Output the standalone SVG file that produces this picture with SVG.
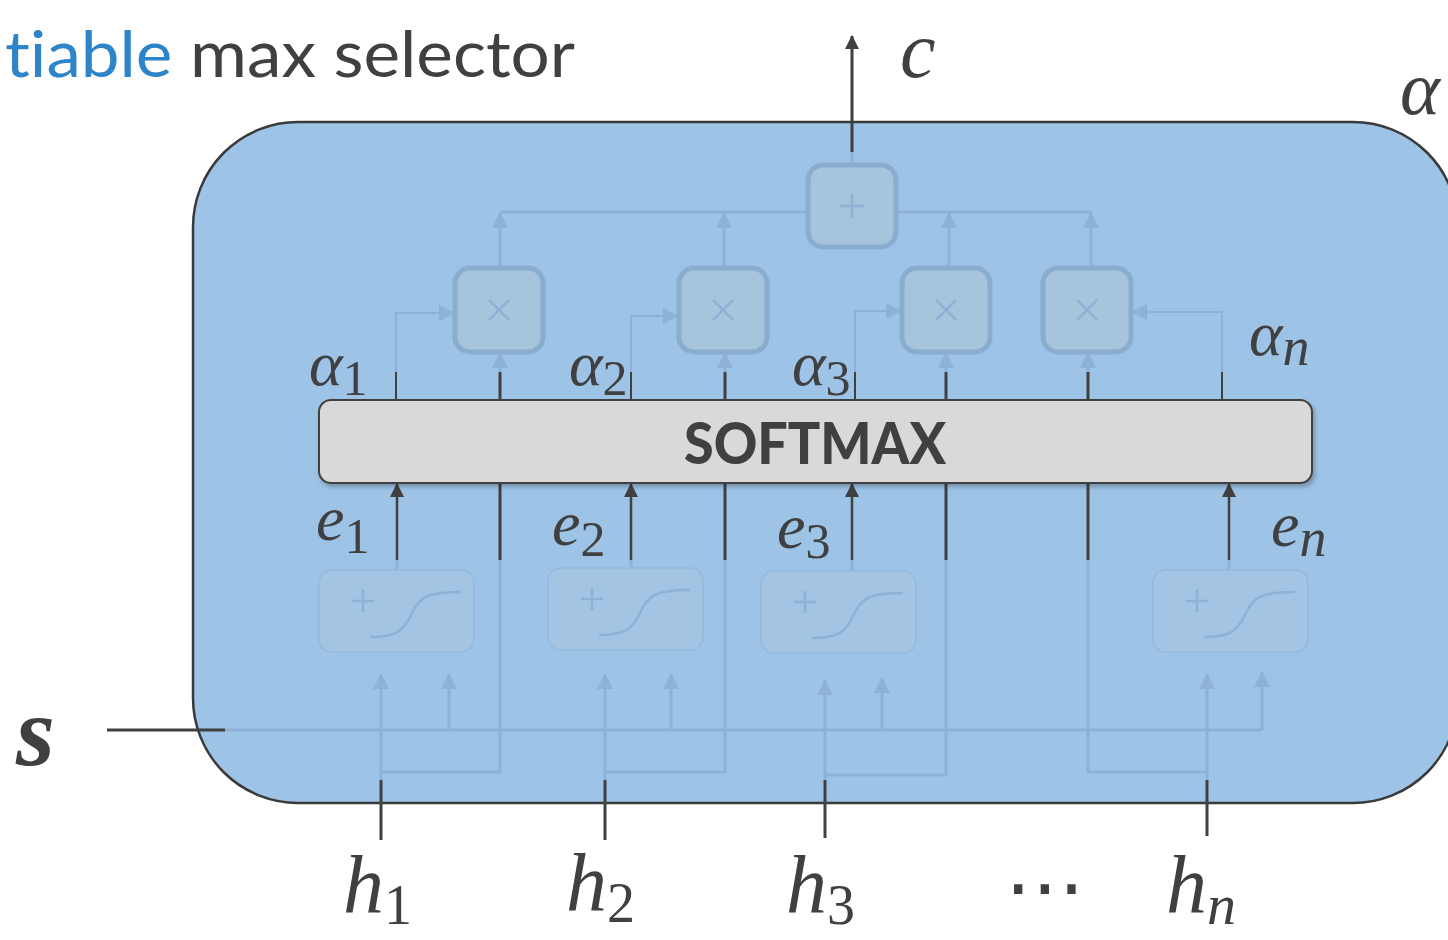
<svg xmlns="http://www.w3.org/2000/svg" width="1448" height="940" viewBox="0 0 1448 940">
  <style>
    .dark { stroke: #404040; fill: none; }
    .fade { stroke: #8db2d6; fill: none; }
    .mul { fill: #a6c4dc; stroke: #8aadcf; stroke-width: 5; }
    .sig { fill: #a3c5e3; stroke: #94b9dc; stroke-width: 1.5; }
    .glyph { stroke: #8db2d6; fill: none; stroke-width: 2.5; }
    .math { font-family: "Liberation Serif", "DejaVu Serif", serif; font-style: italic; fill: #404040; }
    .sub { font-style: normal; }
    .sans { font-family: Lato, "Open Sans", sans-serif; font-variant-ligatures: none; font-feature-settings: "liga" 0, "clig" 0; }
  </style>
  <defs>
    <marker id="arrDark" viewBox="0 0 14 14" markerWidth="14" markerHeight="14" refX="13" refY="7" orient="auto" markerUnits="userSpaceOnUse">
      <path d="M0,0 L14,7 L0,14 z" fill="#404040"/>
    </marker>
    <marker id="arrFade" viewBox="0 0 16 16" markerWidth="16" markerHeight="16" refX="15" refY="8" orient="auto" markerUnits="userSpaceOnUse">
      <path d="M0,0 L16,8 L0,16 z" fill="#8db2d6"/>
    </marker>
    <filter id="shadow" x="-5%" y="-20%" width="110%" height="150%">
      <feDropShadow dx="2" dy="3" stdDeviation="2" flood-color="#000" flood-opacity="0.25"/>
    </filter>
    <g id="sigmoid">
      <rect x="0" y="0" width="155" height="82" rx="13" class="sig"/>
      <path d="M44,20 v22 M33,31 h22" class="glyph" stroke-width="2"/>
      <path d="M51,67 C76,67 84,62 92,45 C100,27 108,22 142,22" class="glyph" stroke-width="3"/>
    </g>
    <g id="times">
      <rect x="0" y="0" width="88" height="84" rx="15" class="mul"/>
      <path d="M34,32 L54,52 M54,32 L34,52" class="glyph" stroke-width="2"/>
    </g>
  </defs>

  <!-- title -->
  <text class="sans" x="5" y="77" font-size="64" fill="#404040" textLength="570" lengthAdjust="spacingAndGlyphs"><tspan fill="#2e84c8">tiable</tspan> max selector</text>

  <!-- attention module container -->
  <g id="module">
    <rect x="193" y="122" width="1265" height="681" rx="105" ry="105" fill="#9dc3e6" stroke="#3a3a3a" stroke-width="2.5"/>
  </g>

  <!-- connectors -->
  <g id="connectors">
    <!-- faded wiring inside the module -->
    <g class="fade" stroke-width="3">
      <!-- s bus -->
      <path d="M225,730 H1262"/>
      <!-- products to the sum -->
      <path d="M500,212 H1092"/>
      <path d="M500,268 V213" marker-end="url(#arrFade)"/>
      <path d="M724,268 V213" marker-end="url(#arrFade)"/>
      <path d="M949,268 V213" marker-end="url(#arrFade)"/>
      <path d="M1091,268 V213" marker-end="url(#arrFade)"/>
      <path d="M852,165 V150"/>
      <!-- h pass-through into multipliers -->
      <path d="M500,372 V353" marker-end="url(#arrFade)"/>
      <path d="M725,372 V353" marker-end="url(#arrFade)"/>
      <path d="M946,372 V353" marker-end="url(#arrFade)"/>
      <path d="M1088,372 V353" marker-end="url(#arrFade)"/>
      <!-- h routing below the scorers -->
      <path d="M381,780 V772 H500 V560"/>
      <path d="M605,780 V772 H725 V560"/>
      <path d="M825,780 V775 H946 V560"/>
      <path d="M1207,780 V772 H1088 V560"/>
      <!-- inputs of the scorers -->
      <path d="M381,772 V674" marker-end="url(#arrFade)"/>
      <path d="M449,730 V674" marker-end="url(#arrFade)"/>
      <path d="M605,772 V674" marker-end="url(#arrFade)"/>
      <path d="M671,730 V674" marker-end="url(#arrFade)"/>
      <path d="M825,775 V680" marker-end="url(#arrFade)"/>
      <path d="M882,730 V678" marker-end="url(#arrFade)"/>
      <path d="M1207,772 V674" marker-end="url(#arrFade)"/>
      <path d="M1262,730 V672" marker-end="url(#arrFade)"/>
      <!-- scorer outputs -->
      <path d="M397,570 V560"/>
      <path d="M631,568 V560"/>
      <path d="M852,571 V560"/>
      <path d="M1229,570 V560"/>
    </g>
    <!-- attention weights into multipliers -->
    <g class="fade" stroke-width="2">
      <path d="M396,372 V313 H454" marker-end="url(#arrFade)"/>
      <path d="M631,372 V316 H678" marker-end="url(#arrFade)"/>
      <path d="M855,372 V311 H901" marker-end="url(#arrFade)"/>
      <path d="M1222,372 V312 H1132" marker-end="url(#arrFade)"/>
    </g>

    <!-- highlighted wiring -->
    <g class="dark" stroke-width="3">
      <path d="M107,730 H225"/>
      <path d="M852,152 V36" marker-end="url(#arrDark)"/>
      <path d="M381,780 V840"/>
      <path d="M605,780 V840"/>
      <path d="M825,780 V838"/>
      <path d="M1207,780 V836"/>
      <path d="M500,483 V560"/>
      <path d="M725,483 V560"/>
      <path d="M946,483 V560"/>
      <path d="M1088,483 V560"/>
      <path d="M500,400 V372"/>
      <path d="M725,400 V372"/>
      <path d="M946,400 V372"/>
      <path d="M1088,400 V372"/>
    </g>
    <g class="dark" stroke-width="2.5">
      <path d="M397,560 V484" marker-end="url(#arrDark)"/>
      <path d="M631,560 V484" marker-end="url(#arrDark)"/>
      <path d="M852,560 V484" marker-end="url(#arrDark)"/>
      <path d="M1229,560 V484" marker-end="url(#arrDark)"/>
    </g>
    <g class="dark" stroke-width="2">
      <path d="M396,400 V372"/>
      <path d="M631,400 V372"/>
      <path d="M855,400 V372"/>
      <path d="M1222,400 V372"/>
    </g>
  </g>

  <!-- sum node -->
  <g id="sum">
    <rect x="808" y="165" width="88" height="82" rx="15" class="mul"/>
    <path d="M852,194 v24 M840,206 h24" class="glyph" stroke-width="2"/>
  </g>

  <!-- multiplier nodes -->
  <g id="mul1"><use href="#times" x="455" y="268"/></g>
  <g id="mul2"><use href="#times" x="679" y="268"/></g>
  <g id="mul3"><use href="#times" x="902" y="268"/></g>
  <g id="mul4"><use href="#times" x="1043" y="268"/></g>

  <!-- scoring nodes -->
  <g id="score1"><use href="#sigmoid" x="319" y="570"/></g>
  <g id="score2"><use href="#sigmoid" x="548" y="568"/></g>
  <g id="score3"><use href="#sigmoid" x="761" y="571"/></g>
  <g id="score4"><use href="#sigmoid" x="1153" y="570"/></g>

  <!-- softmax -->
  <g id="softmax">
    <rect x="319" y="400" width="993" height="83" rx="12" fill="#d9d9d9" stroke="#404040" stroke-width="2" filter="url(#shadow)"/>
    <text class="sans" x="815" y="464" text-anchor="middle" font-weight="900" font-size="58" fill="#404040" textLength="262" lengthAdjust="spacingAndGlyphs">SOFTMAX</text>
  </g>

  <!-- labels -->
  <g id="labels" class="math">
    <text x="900" y="77" font-size="80">c</text>
    <text x="1400" y="114" font-size="76">α</text>
    <text x="16" y="765" font-size="100" font-weight="bold">s</text>

    <text x="309" y="385" font-size="64">α<tspan class="sub" font-size="50" dy="10">1</tspan></text>
    <text x="569" y="385" font-size="64">α<tspan class="sub" font-size="50" dy="10">2</tspan></text>
    <text x="792" y="385" font-size="64">α<tspan class="sub" font-size="50" dy="10">3</tspan></text>
    <text x="1249" y="355" font-size="64">α<tspan font-size="54" dy="10">n</tspan></text>

    <text x="316" y="540" font-size="64">e<tspan class="sub" font-size="50" dy="13">1</tspan></text>
    <text x="552" y="545" font-size="64">e<tspan class="sub" font-size="50" dy="11">2</tspan></text>
    <text x="777" y="548" font-size="64">e<tspan class="sub" font-size="50" dy="10">3</tspan></text>
    <text x="1271" y="546" font-size="64">e<tspan font-size="54" dy="10">n</tspan></text>

    <text x="343" y="912" font-size="82">h<tspan class="sub" font-size="56" dy="12">1</tspan></text>
    <text x="566" y="910" font-size="82">h<tspan class="sub" font-size="56" dy="12">2</tspan></text>
    <text x="786" y="912" font-size="82">h<tspan class="sub" font-size="56" dy="12">3</tspan></text>
    <text x="1166" y="912" font-size="82">h<tspan font-size="58" dy="12">n</tspan></text>
  </g>
  <text x="1045" y="914" text-anchor="middle" font-family="'DejaVu Sans', sans-serif" font-size="80" fill="#404040">⋯</text>
</svg>
